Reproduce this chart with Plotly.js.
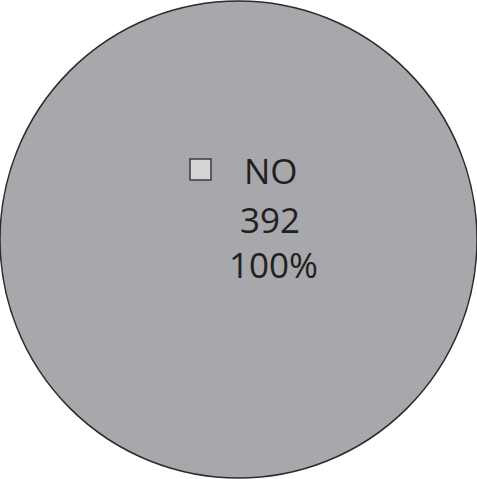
<!DOCTYPE html>
<html>
<head>
<meta charset="utf-8">
<script src="https://cdn.plot.ly/plotly-3.0.1.min.js"></script>
<style>html,body{margin:0;padding:0;background:#fff;}#chart{width:477px;height:479px;}</style>
</head>
<body>
<div id="chart"></div>
<script>
const labels = ['NO'];
const values = [392];
const colors = ['#a7a8ab'];

const total = values.reduce((a, b) => a + b, 0);
const pct = values.map(v => Math.round(v / total * 100) + '%');

const W = 477, H = 479;
const px = x => x / W;
const py = y => 1 - y / H;
const font = {family: 'Open Sans, sans-serif', size: 35, color: '#231f20'};

const data = [{
  type: 'pie',
  labels: labels,
  values: values,
  sort: false,
  textinfo: 'none',
  hoverinfo: 'none',
  showlegend: false,
  marker: {colors: colors, line: {color: '#2b2b2b', width: 1.5}},
  domain: {x: [0, 1], y: [0, 1]}
}];

const layout = {
  width: W, height: H,
  margin: {l: 0, r: 0, t: 0, b: 0},
  paper_bgcolor: '#ffffff',
  showlegend: false,
  shapes: [{
    type: 'rect', xref: 'paper', yref: 'paper',
    x0: px(190), x1: px(211), y0: py(180), y1: py(159),
    fillcolor: '#d3d4d6', line: {color: '#3a3a3a', width: 1.5}
  }],
  annotations: [
    {text: labels[0], x: px(271), y: py(170), xref: 'paper', yref: 'paper', showarrow: false, font: font, xanchor: 'center', yanchor: 'middle'},
    {text: String(values[0]), x: px(270), y: py(219), xref: 'paper', yref: 'paper', showarrow: false, font: font, xanchor: 'center', yanchor: 'middle'},
    {text: pct[0], x: px(273), y: py(264), xref: 'paper', yref: 'paper', showarrow: false, font: font, xanchor: 'center', yanchor: 'middle'}
  ]
};

Plotly.newPlot('chart', data, layout, {displayModeBar: false, staticPlot: true});
</script>
</body>
</html>
